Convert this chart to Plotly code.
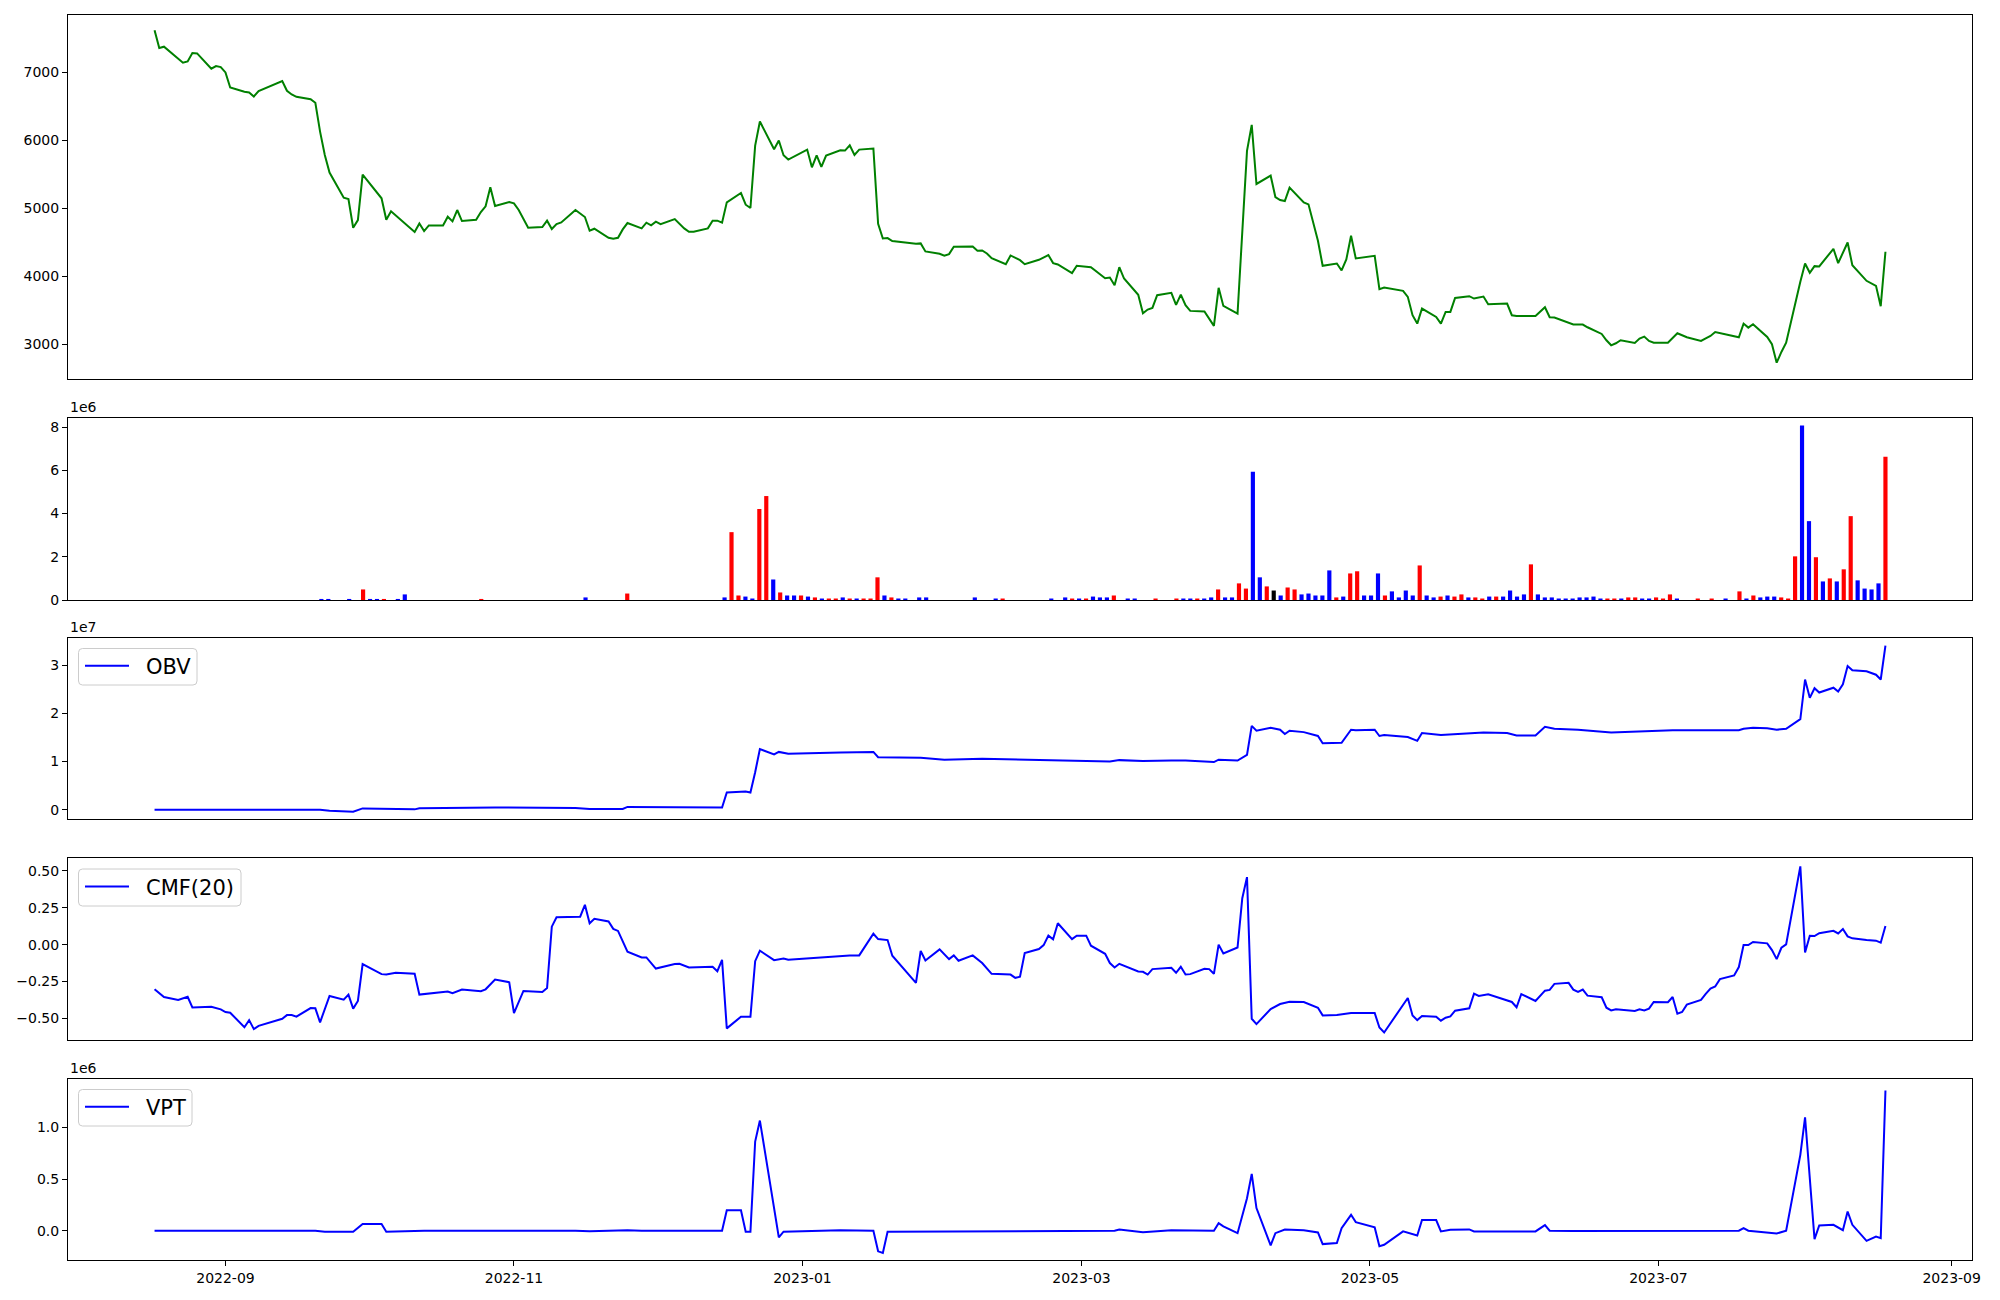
import plotly.graph_objects as go

# ---------------- data ----------------
price_dates = [
    "2022-08-17", "2022-08-18", "2022-08-19", "2022-08-23", "2022-08-24", "2022-08-25", "2022-08-26",
    "2022-08-29", "2022-08-30", "2022-08-31", "2022-09-01", "2022-09-02", "2022-09-05", "2022-09-06",
    "2022-09-07", "2022-09-08", "2022-09-13", "2022-09-14", "2022-09-15", "2022-09-16", "2022-09-19",
    "2022-09-20", "2022-09-21", "2022-09-22", "2022-09-23", "2022-09-26", "2022-09-27", "2022-09-28",
    "2022-09-29", "2022-09-30", "2022-10-04", "2022-10-05", "2022-10-06", "2022-10-11", "2022-10-12",
    "2022-10-13", "2022-10-14", "2022-10-17", "2022-10-18", "2022-10-19", "2022-10-20", "2022-10-21",
    "2022-10-24", "2022-10-25", "2022-10-26", "2022-10-27", "2022-10-28", "2022-10-31", "2022-11-01",
    "2022-11-02", "2022-11-04", "2022-11-07", "2022-11-08", "2022-11-09", "2022-11-10", "2022-11-11",
    "2022-11-14", "2022-11-16", "2022-11-17", "2022-11-18", "2022-11-21", "2022-11-22", "2022-11-23",
    "2022-11-24", "2022-11-25", "2022-11-28", "2022-11-29", "2022-11-30", "2022-12-01", "2022-12-02",
    "2022-12-05", "2022-12-07", "2022-12-08", "2022-12-09", "2022-12-12", "2022-12-13", "2022-12-14",
    "2022-12-15", "2022-12-16", "2022-12-19", "2022-12-20", "2022-12-21", "2022-12-22", "2022-12-23",
    "2022-12-26", "2022-12-27", "2022-12-28", "2022-12-29", "2023-01-02", "2023-01-03", "2023-01-04",
    "2023-01-05", "2023-01-06", "2023-01-09", "2023-01-10", "2023-01-11", "2023-01-12", "2023-01-13",
    "2023-01-16", "2023-01-17", "2023-01-18", "2023-01-19", "2023-01-20", "2023-01-25", "2023-01-26",
    "2023-01-27", "2023-01-30", "2023-01-31", "2023-02-01", "2023-02-02", "2023-02-06", "2023-02-07",
    "2023-02-08", "2023-02-09", "2023-02-10", "2023-02-13", "2023-02-14", "2023-02-16", "2023-02-17",
    "2023-02-20", "2023-02-22", "2023-02-23", "2023-02-24", "2023-02-27", "2023-02-28", "2023-03-03",
    "2023-03-06", "2023-03-07", "2023-03-08", "2023-03-09", "2023-03-10", "2023-03-13", "2023-03-14",
    "2023-03-15", "2023-03-16", "2023-03-17", "2023-03-20", "2023-03-21", "2023-03-22", "2023-03-23",
    "2023-03-24", "2023-03-27", "2023-03-29", "2023-03-30", "2023-03-31", "2023-04-03", "2023-04-05",
    "2023-04-06", "2023-04-07", "2023-04-10", "2023-04-11", "2023-04-12", "2023-04-13", "2023-04-14",
    "2023-04-17", "2023-04-18", "2023-04-20", "2023-04-21", "2023-04-24", "2023-04-25", "2023-04-26",
    "2023-04-27", "2023-04-28", "2023-05-02", "2023-05-03", "2023-05-04", "2023-05-08", "2023-05-09",
    "2023-05-10", "2023-05-11", "2023-05-12", "2023-05-15", "2023-05-16", "2023-05-17", "2023-05-18",
    "2023-05-19", "2023-05-22", "2023-05-23", "2023-05-25", "2023-05-26", "2023-05-30", "2023-05-31",
    "2023-06-01", "2023-06-05", "2023-06-07", "2023-06-08", "2023-06-09", "2023-06-13", "2023-06-15",
    "2023-06-16", "2023-06-19", "2023-06-20", "2023-06-21", "2023-06-22", "2023-06-23", "2023-06-26",
    "2023-06-27", "2023-06-28", "2023-06-29", "2023-06-30", "2023-07-03", "2023-07-05", "2023-07-07",
    "2023-07-10", "2023-07-11", "2023-07-12", "2023-07-13", "2023-07-18", "2023-07-19", "2023-07-20",
    "2023-07-21", "2023-07-24", "2023-07-25", "2023-07-26", "2023-07-27", "2023-07-28", "2023-07-31",
    "2023-08-01", "2023-08-02", "2023-08-03", "2023-08-04", "2023-08-07", "2023-08-08", "2023-08-10",
    "2023-08-11", "2023-08-14", "2023-08-16", "2023-08-17", "2023-08-18",
]
price_close = [
    7620, 7359, 7379, 7143, 7163, 7285, 7280,
    7055, 7094, 7079, 7001, 6780, 6716, 6706,
    6647, 6726, 6873, 6731, 6677, 6642, 6608,
    6554, 6131, 5788, 5528, 5159, 5140, 4717,
    4830, 5498, 5150, 4835, 4958, 4654, 4781,
    4668, 4752, 4752, 4879, 4811, 4978, 4816,
    4835, 4948, 5032, 5312, 5037, 5095, 5076,
    4978, 4717, 4727, 4821, 4698, 4771, 4796,
    4978, 4875, 4673, 4703, 4570, 4555, 4570,
    4693, 4786, 4708, 4791, 4752, 4806, 4771,
    4845, 4708, 4658, 4658, 4708, 4821, 4821,
    4791, 5091, 5228, 5056, 5007, 5925, 6279,
    5871, 5999, 5783, 5719, 5866, 5606, 5783,
    5611, 5778, 5857, 5852, 5930, 5788, 5866,
    5881, 4776, 4560, 4565, 4521, 4482, 4487,
    4369, 4334, 4305, 4330, 4438, 4442, 4379,
    4384, 4339, 4271, 4182, 4310, 4241, 4182,
    4246, 4315, 4197, 4177, 4050, 4158, 4138,
    3976, 3986, 3873, 4138, 3971, 3731, 3460,
    3515, 3539, 3726, 3760, 3583, 3735, 3578,
    3495, 3485, 3274, 3834, 3568, 3456, 5847,
    6230, 5361, 5483, 5169, 5125, 5110, 5307,
    5091, 5061, 4526, 4158, 4192, 4089, 4251,
    4600, 4266, 4305, 3814, 3839, 3789, 3701,
    3431, 3308, 3529, 3406, 3308, 3480, 3480,
    3686, 3711, 3676, 3706, 3593, 3603, 3431,
    3421, 3421, 3549, 3402, 3397, 3294, 3294,
    3254, 3156, 3063, 2989, 3019, 3063, 3023,
    3087, 3117, 3053, 3028, 3028, 3166, 3107,
    3053, 3092, 3127, 3185, 3107, 3308, 3249,
    3298, 3112, 3004, 2734, 2891, 3028, 3922,
    4192, 4055, 4153, 4148, 4408, 4197, 4501,
    4167, 3937, 3863, 3564, 4364,
]

# volume bars: trading-day number (0 = 2022-08-17), volume in millions, candle tone
volume_day = [
    24, 25, 28, 30, 31, 32, 33, 35, 36, 47, 62, 68,
    82, 83, 84, 85, 86, 87, 88, 89, 90, 91, 92, 93, 94, 95, 96, 97, 98, 99,
    100, 101, 102, 103, 104, 105, 106, 107, 108, 110, 111, 118, 121, 122,
    129, 131, 132, 133, 134, 135, 136, 137, 138, 140, 141, 144, 147, 148, 149,
    150, 151, 152, 153, 154, 155, 156, 157, 158, 159, 160, 161, 162, 163, 164,
    165, 166, 167, 168, 169, 170, 171, 172, 173, 174, 175, 176, 177, 178, 179,
    180, 181, 182, 183, 184, 185, 186, 187, 188, 189, 190, 191, 192, 193, 194,
    195, 196, 197, 198, 199, 200, 201, 202, 203, 204, 205, 206, 207, 208, 209,
    210, 211, 212, 213, 214, 215, 216, 217, 218, 219, 222, 224, 226, 228, 229,
    230, 231, 232, 233, 234, 235, 236, 237, 238, 239, 240, 241, 242, 243, 244,
    245, 246, 247, 248, 249,
]
volume_m = [
    0.05, 0.05, 0.05, 0.49, 0.05, 0.05, 0.05, 0.05, 0.26, 0.05, 0.12, 0.30,
    0.12, 3.14, 0.21, 0.16, 0.07, 4.21, 4.81, 0.95, 0.35, 0.21, 0.21, 0.21, 0.16, 0.12, 0.07, 0.07, 0.07, 0.12,
    0.07, 0.07, 0.07, 0.07, 1.05, 0.21, 0.12, 0.07, 0.07, 0.12, 0.12, 0.12, 0.07, 0.07,
    0.07, 0.12, 0.07, 0.07, 0.07, 0.16, 0.12, 0.12, 0.21, 0.07, 0.07, 0.07, 0.07, 0.07, 0.07,
    0.07, 0.07, 0.12, 0.49, 0.12, 0.12, 0.77, 0.53, 5.93, 1.05, 0.63, 0.44, 0.21, 0.58, 0.49,
    0.26, 0.30, 0.21, 0.21, 1.37, 0.12, 0.16, 1.23, 1.33, 0.21, 0.21, 1.23, 0.21, 0.40, 0.12,
    0.44, 0.21, 1.60, 0.21, 0.12, 0.16, 0.21, 0.16, 0.26, 0.12, 0.12, 0.07, 0.16, 0.16, 0.16,
    0.44, 0.16, 0.26, 1.65, 0.26, 0.12, 0.12, 0.07, 0.07, 0.07, 0.12, 0.12, 0.16, 0.07, 0.07,
    0.07, 0.07, 0.12, 0.12, 0.07, 0.07, 0.12, 0.07, 0.26, 0.07, 0.07, 0.07, 0.07, 0.40, 0.07,
    0.21, 0.12, 0.16, 0.16, 0.12, 0.07, 2.02, 8.07, 3.65, 1.98, 0.86, 1.00, 0.86, 1.42, 3.88,
    0.91, 0.53, 0.49, 0.77, 6.63,
]
volume_tone = [
    "down", "down", "down", "up", "down", "down", "up", "down", "down", "up", "down", "up",
    "down", "up", "up", "down", "down", "up", "up", "down", "up", "down", "down", "up", "down", "up", "down", "up", "up", "down",
    "up", "down", "up", "up", "up", "down", "up", "down", "down", "down", "down", "down", "down", "up",
    "down", "down", "up", "down", "up", "down", "down", "down", "up", "down", "down", "up", "up", "down", "down",
    "up", "down", "down", "up", "down", "down", "up", "up", "down", "down", "up", "flat", "down", "up", "up",
    "down", "down", "down", "down", "down", "up", "down", "up", "up", "down", "down", "down", "up", "down", "down",
    "down", "down", "up", "down", "down", "up", "down", "up", "up", "down", "up", "up", "down", "up", "down",
    "down", "down", "down", "up", "down", "down", "down", "down", "down", "down", "down", "down", "down", "down", "up",
    "up", "down", "up", "up", "down", "down", "up", "up", "up", "down", "up", "up", "down", "up", "down",
    "up", "down", "down", "down", "up", "up", "up", "down", "down", "up", "down", "up", "down", "up", "up",
    "down", "down", "down", "down", "up",
]
n_trading_days = 250

obv_dates = [
    "2022-08-17", "2022-09-21", "2022-09-23", "2022-09-28", "2022-09-30", "2022-10-11", "2022-10-12",
    "2022-10-28", "2022-11-14", "2022-11-17", "2022-11-24", "2022-11-25", "2022-12-15", "2022-12-16",
    "2022-12-20", "2022-12-21", "2022-12-22", "2022-12-23", "2022-12-26", "2022-12-27", "2022-12-29",
    "2023-01-03", "2023-01-09", "2023-01-16", "2023-01-17", "2023-01-26", "2023-01-31", "2023-02-08",
    "2023-02-17", "2023-02-22", "2023-02-28", "2023-03-06", "2023-03-07", "2023-03-09", "2023-03-14",
    "2023-03-20", "2023-03-23", "2023-03-29", "2023-03-30", "2023-04-03", "2023-04-05", "2023-04-06",
    "2023-04-07", "2023-04-10", "2023-04-12", "2023-04-13", "2023-04-14", "2023-04-17", "2023-04-20",
    "2023-04-21", "2023-04-25", "2023-04-27", "2023-04-28", "2023-05-02", "2023-05-03", "2023-05-04",
    "2023-05-09", "2023-05-11", "2023-05-12", "2023-05-16", "2023-05-18", "2023-05-22", "2023-05-25",
    "2023-05-30", "2023-06-01", "2023-06-05", "2023-06-07", "2023-06-09", "2023-06-14", "2023-06-21",
    "2023-06-27", "2023-07-04", "2023-07-12", "2023-07-18", "2023-07-19", "2023-07-21", "2023-07-24",
    "2023-07-26", "2023-07-28", "2023-07-31", "2023-08-01", "2023-08-02", "2023-08-03", "2023-08-04",
    "2023-08-07", "2023-08-08", "2023-08-09", "2023-08-10", "2023-08-11", "2023-08-14", "2023-08-16",
    "2023-08-17", "2023-08-18",
]
obv_1e7 = [
    0.0, 0.0, -0.02, -0.04, 0.03, 0.01, 0.034,
    0.048, 0.04, 0.02, 0.02, 0.06, 0.05, 0.36,
    0.38, 0.36, 0.78, 1.26, 1.15, 1.20, 1.16,
    1.18, 1.19, 1.20, 1.09, 1.08, 1.04, 1.06,
    1.04, 1.04, 1.02, 1.01, 1.00, 1.03, 1.01,
    1.02, 1.02, 0.99, 1.04, 1.02, 1.14, 1.74,
    1.64, 1.70, 1.66, 1.57, 1.64, 1.61, 1.53,
    1.38, 1.39, 1.66, 1.65, 1.66, 1.53, 1.55,
    1.51, 1.43, 1.59, 1.55, 1.56, 1.59, 1.60,
    1.59, 1.54, 1.54, 1.72, 1.68, 1.66, 1.60,
    1.62, 1.65, 1.65, 1.65, 1.68, 1.70, 1.69,
    1.66, 1.68, 1.88, 2.70, 2.32, 2.52, 2.43,
    2.53, 2.45, 2.60, 2.98, 2.89, 2.87, 2.80,
    2.70, 3.40,
]

cmf_dates = [
    "2022-08-17", "2022-08-19", "2022-08-22", "2022-08-24", "2022-08-25", "2022-08-29", "2022-08-31",
    "2022-09-01", "2022-09-02", "2022-09-05", "2022-09-06", "2022-09-07", "2022-09-08", "2022-09-13",
    "2022-09-14", "2022-09-15", "2022-09-16", "2022-09-19", "2022-09-20", "2022-09-21", "2022-09-23",
    "2022-09-26", "2022-09-27", "2022-09-28", "2022-09-29", "2022-09-30", "2022-10-04", "2022-10-05",
    "2022-10-07", "2022-10-11", "2022-10-12", "2022-10-18", "2022-10-19", "2022-10-21", "2022-10-25",
    "2022-10-26", "2022-10-28", "2022-10-31", "2022-11-01", "2022-11-03", "2022-11-07", "2022-11-08",
    "2022-11-09", "2022-11-10", "2022-11-15", "2022-11-16", "2022-11-17", "2022-11-18", "2022-11-21",
    "2022-11-22", "2022-11-23", "2022-11-24", "2022-11-25", "2022-11-28", "2022-11-29", "2022-12-01",
    "2022-12-05", "2022-12-06", "2022-12-08", "2022-12-13", "2022-12-14", "2022-12-15", "2022-12-16",
    "2022-12-19", "2022-12-21", "2022-12-22", "2022-12-23", "2022-12-26", "2022-12-28", "2022-12-29",
    "2023-01-06", "2023-01-11", "2023-01-13", "2023-01-16", "2023-01-17", "2023-01-19", "2023-01-20",
    "2023-01-25", "2023-01-26", "2023-01-27", "2023-01-30", "2023-02-01", "2023-02-02", "2023-02-03",
    "2023-02-06", "2023-02-08", "2023-02-10", "2023-02-14", "2023-02-15", "2023-02-16", "2023-02-17",
    "2023-02-20", "2023-02-21", "2023-02-22", "2023-02-23", "2023-02-24", "2023-02-27", "2023-02-28",
    "2023-03-02", "2023-03-03", "2023-03-06", "2023-03-07", "2023-03-08", "2023-03-09", "2023-03-13",
    "2023-03-14", "2023-03-15", "2023-03-16", "2023-03-20", "2023-03-21", "2023-03-22", "2023-03-23",
    "2023-03-24", "2023-03-27", "2023-03-28", "2023-03-29", "2023-03-30", "2023-03-31", "2023-04-03",
    "2023-04-04", "2023-04-05", "2023-04-06", "2023-04-07", "2023-04-10", "2023-04-12", "2023-04-14",
    "2023-04-17", "2023-04-19", "2023-04-20", "2023-04-21", "2023-04-24", "2023-04-27", "2023-05-02",
    "2023-05-03", "2023-05-04", "2023-05-09", "2023-05-10", "2023-05-11", "2023-05-12", "2023-05-15",
    "2023-05-16", "2023-05-17", "2023-05-18", "2023-05-19", "2023-05-22", "2023-05-23", "2023-05-24",
    "2023-05-26", "2023-05-31", "2023-06-01", "2023-06-02", "2023-06-05", "2023-06-07", "2023-06-08",
    "2023-06-09", "2023-06-12", "2023-06-13", "2023-06-14", "2023-06-15", "2023-06-16", "2023-06-19",
    "2023-06-20", "2023-06-21", "2023-06-22", "2023-06-26", "2023-06-27", "2023-06-28", "2023-06-29",
    "2023-06-30", "2023-07-03", "2023-07-04", "2023-07-05", "2023-07-06", "2023-07-07", "2023-07-10",
    "2023-07-11", "2023-07-12", "2023-07-13", "2023-07-14", "2023-07-17", "2023-07-18", "2023-07-19",
    "2023-07-20", "2023-07-21", "2023-07-24", "2023-07-25", "2023-07-26", "2023-07-27", "2023-07-28",
    "2023-07-31", "2023-08-01", "2023-08-02", "2023-08-03", "2023-08-04", "2023-08-07", "2023-08-08",
    "2023-08-09", "2023-08-10", "2023-08-11", "2023-08-14", "2023-08-16", "2023-08-17", "2023-08-18",
]
cmf_20 = [
    -0.303, -0.355, -0.376, -0.354, -0.426, -0.421, -0.439,
    -0.457, -0.462, -0.560, -0.512, -0.573, -0.551, -0.503,
    -0.478, -0.478, -0.489, -0.430, -0.432, -0.527, -0.348,
    -0.373, -0.339, -0.434, -0.382, -0.132, -0.200, -0.203,
    -0.191, -0.198, -0.339, -0.318, -0.330, -0.305, -0.316,
    -0.303, -0.237, -0.255, -0.464, -0.314, -0.321, -0.294,
    0.122, 0.186, 0.190, 0.270, 0.145, 0.175, 0.157,
    0.107, 0.093, 0.025, -0.048, -0.087, -0.087, -0.162,
    -0.132, -0.130, -0.155, -0.150, -0.180, -0.103, -0.568,
    -0.489, -0.489, -0.112, -0.041, -0.105, -0.094, -0.103,
    -0.082, -0.073, -0.073, 0.074, 0.038, 0.031, -0.075,
    -0.259, -0.043, -0.107, -0.032, -0.098, -0.073, -0.109,
    -0.073, -0.125, -0.198, -0.203, -0.225, -0.218, -0.057,
    -0.030, -0.003, 0.061, 0.036, 0.145, 0.038, 0.061,
    0.061, -0.007, -0.062, -0.125, -0.155, -0.130, -0.182,
    -0.184, -0.203, -0.166, -0.157, -0.191, -0.150, -0.203,
    -0.200, -0.164, -0.166, -0.198, 0.000, -0.060, -0.019,
    0.315, 0.458, -0.503, -0.539, -0.437, -0.403, -0.387,
    -0.389, -0.412, -0.428, -0.480, -0.478, -0.464, -0.464,
    -0.562, -0.596, -0.362, -0.480, -0.512, -0.484, -0.489,
    -0.516, -0.496, -0.487, -0.448, -0.432, -0.332, -0.348,
    -0.337, -0.389, -0.425, -0.335, -0.382, -0.312, -0.307,
    -0.266, -0.259, -0.305, -0.321, -0.305, -0.346, -0.357,
    -0.428, -0.446, -0.439, -0.450, -0.439, -0.446, -0.434,
    -0.389, -0.391, -0.355, -0.469, -0.457, -0.407, -0.375,
    -0.334, -0.298, -0.284, -0.234, -0.209, -0.152, -0.003,
    -0.003, 0.018, 0.009, -0.037, -0.098, -0.021, 0.002,
    0.531, -0.053, 0.060, 0.058, 0.078, 0.094, 0.076,
    0.106, 0.056, 0.043, 0.031, 0.027, 0.013, 0.127,
]

vpt_dates = [
    "2022-08-17", "2022-09-20", "2022-09-22", "2022-09-28", "2022-09-30", "2022-10-04", "2022-10-05",
    "2022-10-11", "2022-10-12", "2022-10-13", "2022-11-14", "2022-11-17", "2022-11-25", "2022-11-28",
    "2022-12-15", "2022-12-16", "2022-12-19", "2022-12-20", "2022-12-21", "2022-12-22", "2022-12-23",
    "2022-12-26", "2022-12-27", "2022-12-28", "2023-01-09", "2023-01-16", "2023-01-17", "2023-01-18",
    "2023-01-19", "2023-03-08", "2023-03-09", "2023-03-14", "2023-03-20", "2023-03-29", "2023-03-30",
    "2023-03-31", "2023-04-03", "2023-04-05", "2023-04-06", "2023-04-07", "2023-04-10", "2023-04-11",
    "2023-04-13", "2023-04-17", "2023-04-20", "2023-04-21", "2023-04-24", "2023-04-25", "2023-04-27",
    "2023-04-28", "2023-05-02", "2023-05-03", "2023-05-04", "2023-05-08", "2023-05-11", "2023-05-12",
    "2023-05-15", "2023-05-16", "2023-05-18", "2023-05-22", "2023-05-23", "2023-06-05", "2023-06-07",
    "2023-06-08", "2023-06-13", "2023-07-18", "2023-07-19", "2023-07-20", "2023-07-26", "2023-07-28",
    "2023-07-31", "2023-08-01", "2023-08-02", "2023-08-03", "2023-08-04", "2023-08-07", "2023-08-09",
    "2023-08-10", "2023-08-11", "2023-08-14", "2023-08-16", "2023-08-17", "2023-08-18",
]
vpt_1e6 = [
    0.0, 0.0, -0.01, -0.01, 0.064, 0.064, -0.01,
    0.0, 0.005, 0.0, 0.0, -0.005, 0.005, 0.0,
    0.0, 0.198, 0.198, -0.01, -0.01, 0.864, 1.067,
    0.25, -0.065, -0.01, 0.005, 0.0, -0.20, -0.216,
    -0.01, 0.0, 0.012, -0.014, 0.005, 0.0, 0.073,
    0.042, -0.024, 0.315, 0.551, 0.219, -0.143, -0.024,
    0.012, 0.005, -0.017, -0.130, -0.120, 0.025, 0.154,
    0.083, 0.032, -0.150, -0.137, -0.007, -0.046, 0.103,
    0.103, -0.007, 0.009, 0.012, -0.007, -0.007, 0.054,
    0.0, -0.004, 0.0, 0.025, 0.0, -0.027, 0.0,
    0.735, 1.099, 0.50, -0.082, 0.05, 0.057, 0.005,
    0.186, 0.057, -0.098, -0.056, -0.072, 1.358,
]

price_ticks = [3000, 4000, 5000, 6000, 7000]
volume_ticks = [0, 2, 4, 6, 8]
obv_ticks = [0, 1, 2, 3]
cmf_ticks = [-0.5, -0.25, 0.0, 0.25, 0.5]
cmf_tick_text = ["\u22120.50", "\u22120.25", "0.00", "0.25", "0.50"]
vpt_ticks = [0.0, 0.5, 1.0]
vpt_tick_text = ["0.0", "0.5", "1.0"]
legend_labels = ["OBV", "CMF(20)", "VPT"]

# ---------------- figure ----------------
tone_color = {"up": "#ff0000", "down": "#0000ff", "flat": "#000000"}
FONT = "DejaVu Sans, Liberation Sans, sans-serif"

W, H = 2000, 1300
ML, MR, MT, MB = 68, 28, 15, 40
PW, PH = W - ML - MR, H - MT - MB


def fx(px):
    return (px - ML) / PW


def fy(py):
    return (H - MB - py) / PH


fig = go.Figure()
fig.add_trace(go.Scatter(x=price_dates, y=price_close, mode="lines",
                         line=dict(color="#008000", width=2), xaxis="x", yaxis="y",
                         showlegend=False))
fig.add_trace(go.Bar(x=volume_day, y=volume_m, width=0.6,
                     marker=dict(color=[tone_color[t] for t in volume_tone], line=dict(width=0)),
                     xaxis="x2", yaxis="y2", showlegend=False))
fig.add_trace(go.Scatter(x=obv_dates, y=obv_1e7, mode="lines", name=legend_labels[0],
                         line=dict(color="#0000ff", width=2), xaxis="x3", yaxis="y3",
                         showlegend=False))
fig.add_trace(go.Scatter(x=cmf_dates, y=cmf_20, mode="lines", name=legend_labels[1],
                         line=dict(color="#0000ff", width=2), xaxis="x4", yaxis="y4",
                         showlegend=False))
fig.add_trace(go.Scatter(x=vpt_dates, y=vpt_1e6, mode="lines", name=legend_labels[2],
                         line=dict(color="#0000ff", width=2), xaxis="x5", yaxis="y5",
                         showlegend=False))

date_range = ["2022-07-29 16:48", "2023-09-05 07:12"]
half = (n_trading_days - 1) * 0.05
frame = dict(showline=True, mirror=True, linecolor="black", linewidth=1,
             showgrid=False, zeroline=False)
hidden_x = dict(type="date", range=date_range, showticklabels=False, ticks="", **frame)
yfmt = dict(ticks="outside", ticklen=5, tickwidth=1, tickcolor="black",
            tickfont=dict(size=14, color="black", family=FONT), **frame)

fig.update_layout(
    width=W, height=H,
    margin=dict(l=ML, r=MR, t=MT, b=MB),
    paper_bgcolor="white", plot_bgcolor="white",
    font=dict(family=FONT, color="black", size=14),
    showlegend=False,
    xaxis=dict(anchor="y", **hidden_x),
    xaxis2=dict(anchor="y2", range=[-half, n_trading_days - 1 + half],
                showticklabels=False, ticks="", **frame),
    xaxis3=dict(anchor="y3", **hidden_x),
    xaxis4=dict(anchor="y4", **hidden_x),
    xaxis5=dict(anchor="y5", type="date", range=date_range, ticks="outside", ticklen=5,
                tickwidth=1, tickcolor="black", tickformat="%Y-%m", dtick="M2",
                tick0="2022-09-01", tickfont=dict(size=14, color="black", family=FONT), **frame),
    yaxis=dict(domain=[0.7076, 1.0], range=[2493, 7845], tickvals=price_ticks, anchor="x", **yfmt),
    yaxis2=dict(domain=[0.5301, 0.6763], range=[0, 8.42], tickvals=volume_ticks, anchor="x2", **yfmt),
    yaxis3=dict(domain=[0.3542, 0.4996], range=[-0.19, 3.56], tickvals=obv_ticks, anchor="x3", **yfmt),
    yaxis4=dict(domain=[0.1767, 0.3229], range=[-0.647, 0.588], tickvals=cmf_ticks,
                ticktext=cmf_tick_text, anchor="x4", **yfmt),
    yaxis5=dict(domain=[0.0, 0.1454], range=[-0.284, 1.47], tickvals=vpt_ticks,
                ticktext=vpt_tick_text, anchor="x5", **yfmt),
)


def round_box(x0, y0, x1, y1, r=4):
    # pixel box (y down) -> rounded rectangle path in paper coords
    rx, ry = r / PW, r / PH
    X0, X1 = fx(x0), fx(x1)
    Yt, Yb = fy(y0), fy(y1)
    return (f"M{X0 + rx},{Yt} L{X1 - rx},{Yt} Q{X1},{Yt} {X1},{Yt - ry} "
            f"L{X1},{Yb + ry} Q{X1},{Yb} {X1 - rx},{Yb} L{X0 + rx},{Yb} "
            f"Q{X0},{Yb} {X0},{Yb + ry} L{X0},{Yt - ry} Q{X0},{Yt} {X0 + rx},{Yt} Z")


# hand-drawn matplotlib-style legends: (label, box left, top, right, bottom) in pixels
legend_boxes = [(legend_labels[0], 78.5, 648.5, 197, 685),
                (legend_labels[1], 78.5, 869, 241, 906),
                (legend_labels[2], 78.5, 1089.5, 192, 1126)]
for label, bx0, by0, bx1, by1 in legend_boxes:
    fig.add_shape(type="path", path=round_box(bx0, by0, bx1, by1), xref="paper", yref="paper",
                  fillcolor="rgba(255,255,255,0.8)", line=dict(color="#cccccc", width=1), layer="above")
    ymid = (by0 + by1) / 2 - 1
    fig.add_shape(type="line", xref="paper", yref="paper", x0=fx(85), x1=fx(129),
                  y0=fy(ymid), y1=fy(ymid), line=dict(color="#0000ff", width=2), layer="above")
    fig.add_annotation(text=label, x=fx(143.5), y=fy(ymid + 1), xref="paper", yref="paper",
                       xanchor="left", yanchor="middle", showarrow=False,
                       font=dict(size=21, family=FONT, color="black"))

for text, ytop in [("1e6", 0.6763), ("1e7", 0.4996), ("1e6", 0.1454)]:
    fig.add_annotation(text=text, x=0, y=ytop, xref="paper", yref="paper",
                       xanchor="left", yanchor="bottom", showarrow=False, yshift=1,
                       font=dict(size=14, family=FONT, color="black"))

fig.write_html("out.html", config={"displayModeBar": False},
               post_script="document.body.style.margin='0';")
